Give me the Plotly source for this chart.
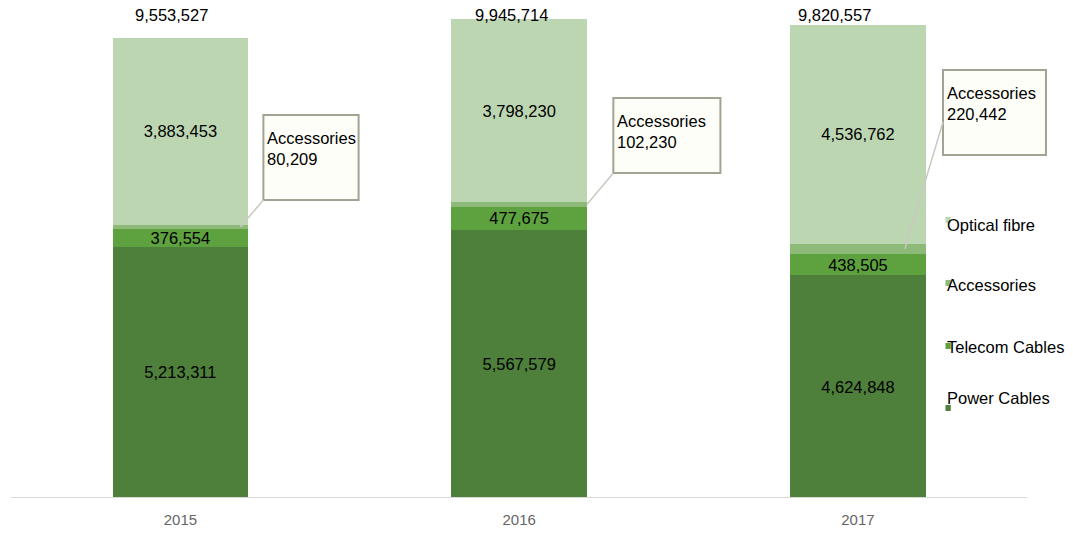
import plotly.graph_objects as go

# Sales by product line (units), stacked per year
years = ["2015", "2016", "2017"]
power_cables = [5213311, 5567579, 4624848]
telecom_cables = [376554, 477675, 438505]
accessories = [80209, 102230, 220442]
optical_fibre = [3883453, 3798230, 4536762]

series_names = ["Power Cables", "Telecom Cables", "Accessories", "Optical fibre"]
colors = {
    "Power Cables": "#4e7f3b",
    "Telecom Cables": "#5ea23f",
    "Accessories": "#8dba79",
    "Optical fibre": "#bcd6b1",
}

FONT = "Liberation Sans, Arial, sans-serif"
FS = 16.5
BAR_W = 0.4

fig = go.Figure()

stack = [power_cables, telecom_cables, accessories, optical_fibre]
for name, vals in zip(series_names, stack):
    show_text = name != "Accessories"
    fig.add_trace(go.Bar(
        x=years, y=vals, name=name, width=BAR_W,
        marker=dict(color=colors[name], line=dict(width=0)),
        texttemplate="%{y:,.0f}" if show_text else None,
        textposition="inside" if show_text else "none",
        insidetextanchor="middle",
        constraintext="none",
        textfont=dict(family=FONT, size=FS, color="#000000"),
        showlegend=False,
    ))

totals = [p + t + a + o for p, t, a, o in zip(power_cables, telecom_cables, accessories, optical_fibre)]

annotations = []
shapes = []

# Totals above each column
total_dx = [-0.025, -0.024, -0.068]
for i, tot in enumerate(totals):
    annotations.append(dict(
        x=i + total_dx[i], y=0.974, xref="x", yref="paper",
        text=f"{tot:,}", showarrow=False,
        font=dict(family=FONT, size=FS, color="#000000"),
        xanchor="center", yanchor="middle",
    ))

# Accessories call-out boxes (x in category units, y in data units)
boxes = [
    (0.245, 0.526, 6.189e6, 7.954e6),
    (1.278, 1.594, 6.750e6, 8.307e6),
    (2.251, 2.555, 7.124e6, 8.889e6),
]
leader_start_dx = [0.177, 0.2, 0.139]
leader_end_y = [None, None, 7.809e6]
for i, (x0, x1, y0, y1) in enumerate(boxes):
    shapes.append(dict(
        type="rect", xref="x", yref="y", x0=x0, x1=x1, y0=y0, y1=y1,
        line=dict(color="#a3a393", width=2), fillcolor="#fefef8", layer="above",
    ))
    annotations.append(dict(
        x=x0 + 0.006, y=y1 - 0.25e6, xref="x", yref="y",
        text=f"Accessories<br>{accessories[i]:,}", showarrow=False, align="left",
        font=dict(family=FONT, size=FS, color="#000000"),
        xanchor="left", yanchor="top",
    ))
    seg_mid = power_cables[i] + telecom_cables[i] + accessories[i] / 2
    ey = leader_end_y[i] if leader_end_y[i] is not None else y0
    shapes.append(dict(
        type="line", xref="x", yref="y",
        x0=i + leader_start_dx[i], y0=seg_mid, x1=x0, y1=ey,
        line=dict(color="#c9c9c0", width=1.5), layer="above",
    ))

# Baseline
shapes.append(dict(
    type="line", xref="x", yref="y", x0=-0.5, x1=2.5, y0=0, y1=0,
    line=dict(color="#d9d9d9", width=2), layer="above",
))

# Hand-placed legend on the right
legend_items = [
    ("Optical fibre", 0.5504, 0.5605),
    ("Accessories", 0.4294, 0.4335),
    ("Telecom Cables", 0.3044, 0.3065),
    ("Power Cables", 0.2016, 0.1815),
]
mx = 0.8836
for name, ty, my in legend_items:
    annotations.append(dict(
        x=mx, y=ty, xref="paper", yref="paper", text=name, showarrow=False,
        font=dict(family=FONT, size=FS, color="#000000"),
        xanchor="left", yanchor="middle",
    ))
    shapes.append(dict(
        type="rect", xref="paper", yref="paper",
        x0=mx + 0.0005, x1=mx + 0.0055, y0=my - 0.006, y1=my + 0.006,
        line=dict(width=0), fillcolor=colors[name],
    ))

fig.update_layout(
    barmode="stack",
    width=1073, height=536,
    margin=dict(l=11, r=5, t=2, b=38),
    plot_bgcolor="#ffffff", paper_bgcolor="#ffffff",
    xaxis=dict(
        type="category", range=[-0.5, 2.62], showgrid=False, zeroline=False,
        showline=False, ticks="", ticklabelstandoff=11,
        tickfont=dict(family=FONT, size=15, color="#666666"),
    ),
    yaxis=dict(range=[0, 10.301e6], visible=False, showgrid=False, zeroline=False),
    annotations=annotations,
    shapes=shapes,
    showlegend=False,
)

fig.write_html("out.html")
